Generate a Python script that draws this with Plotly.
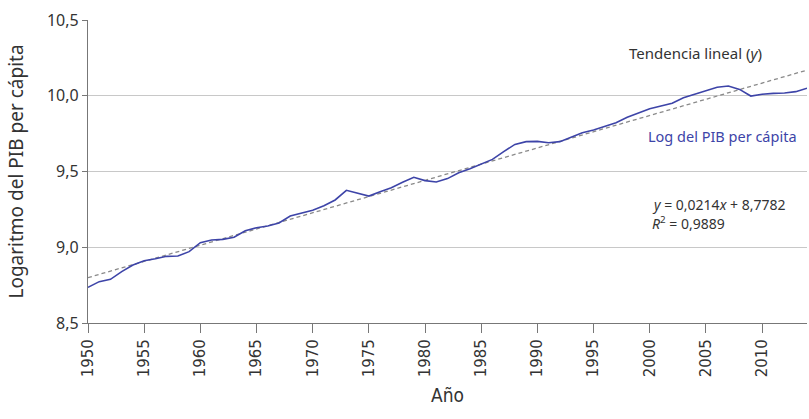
import plotly.graph_objects as go

years = list(range(1950, 2015))
log_gdp = [8.735, 8.773, 8.788, 8.839, 8.883, 8.911, 8.924, 8.940, 8.942, 8.971,
           9.030, 9.048, 9.052, 9.066, 9.109, 9.129, 9.140, 9.160, 9.206, 9.224,
           9.244, 9.274, 9.312, 9.376, 9.356, 9.338, 9.367, 9.393, 9.429, 9.462,
           9.440, 9.431, 9.453, 9.492, 9.518, 9.549, 9.580, 9.631, 9.679, 9.697,
           9.699, 9.690, 9.697, 9.726, 9.756, 9.774, 9.796, 9.822, 9.858, 9.888,
           9.914, 9.932, 9.950, 9.987, 10.010, 10.033, 10.056, 10.064, 10.042, 9.998,
           10.010, 10.016, 10.018, 10.027, 10.050]
slope = 0.0214
intercept = 8.7782
trend = [slope * (i + 1) + intercept for i in range(len(years))]

y_ticks = [8.5, 9.0, 9.5, 10.0, 10.5]
y_tick_labels = ["8,5", "9,0", "9,5", "10,0", "10,5"]
x_ticks = list(range(1950, 2011, 5))

fig = go.Figure()
fig.add_trace(go.Scatter(x=years, y=trend, mode="lines",
                         line=dict(color="#8a8a8a", width=1.3, dash="4px,3px"),
                         hoverinfo="skip"))
fig.add_trace(go.Scatter(x=years, y=log_gdp, mode="lines",
                         line=dict(color="#3d44a8", width=1.6)))

fig.update_layout(
    width=809, height=419,
    margin=dict(l=88, r=2, t=20, b=96),
    paper_bgcolor="white", plot_bgcolor="white",
    showlegend=False,
    font=dict(family="Noto Sans", color="#333333"),
    xaxis=dict(range=[1950, 2014], tickvals=x_ticks, tickangle=-90,
               ticks="outside", ticklen=9, tickcolor="#777777",
               showline=True, linecolor="#777777", linewidth=1.3,
               showgrid=False, zeroline=False,
               tickfont=dict(family="DejaVu Sans", size=15, color="#333333"),
               title=dict(text="Año", font=dict(family="DejaVu Sans Condensed", size=19, color="#333333"),
                          standoff=12)),
    yaxis=dict(range=[8.5, 10.5], tickvals=y_ticks, ticktext=y_tick_labels,
               ticks="outside", ticklen=5, tickcolor="#777777",
               showline=True, linecolor="#777777", linewidth=1.3,
               showgrid=True, gridcolor="#c8c8c8", gridwidth=1.2, zeroline=False,
               tickfont=dict(family="Noto Sans", size=16, color="#333333"),
               title=dict(text="Logaritmo del PIB per cápita",
                          font=dict(family="Noto Sans", size=19, color="#333333"),
                          standoff=18)),
    annotations=[
        dict(x=2004.1, y=10.282, xref="x", yref="y", showarrow=False,
             text="Tendencia lineal (<i>y</i>)",
             font=dict(family="Noto Sans", size=15, color="#333333")),
        dict(x=2013.3, y=9.734, xref="x", yref="y", showarrow=False, xanchor="right",
             text="Log del PIB per cápita",
             font=dict(family="Noto Sans", size=14.5, color="#3d44a8")),
        dict(x=2000.0, y=9.285, xref="x", yref="y", showarrow=False, xanchor="left",
             text="<i>y</i> = 0,0214<i>x</i> + 8,7782",
             font=dict(family="Noto Sans", size=14, color="#333333")),
        dict(x=2000.0, y=9.160, xref="x", yref="y", showarrow=False, xanchor="left",
             text="<i>R</i><sup>2</sup> = 0,9889",
             font=dict(family="Noto Sans", size=14, color="#333333")),
    ],
)

fig.write_html("out.html",
               config={"displayModeBar": False},
               post_script="document.body.style.margin='0';document.body.style.overflow='hidden';")
